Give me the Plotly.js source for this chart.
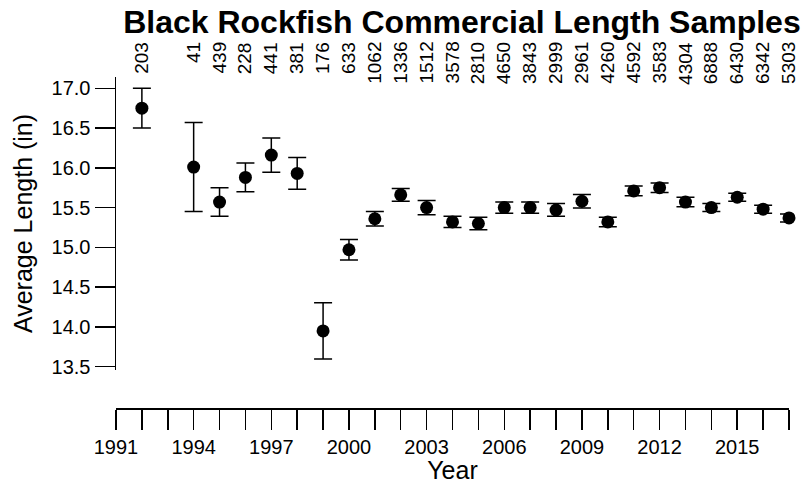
<!DOCTYPE html>
<html>
<head>
<meta charset="utf-8">
<script src="https://cdn.plot.ly/plotly-3.0.1.min.js"></script>
<style>html,body{margin:0;padding:0;background:#fff;}#chart{width:809px;height:484px;}</style>
</head>
<body>
<div id="chart"></div>
<script>
const years = [1992, 1994, 1995, 1996, 1997, 1998, 1999, 2000, 2001, 2002, 2003, 2004, 2005,
               2006, 2007, 2008, 2009, 2010, 2011, 2012, 2013, 2014, 2015, 2016, 2017];
const meanLength = [16.75, 16.01, 15.57, 15.88, 16.16, 15.93, 13.95, 14.97, 15.36, 15.66, 15.50, 15.32, 15.30,
                    15.50, 15.50, 15.47, 15.58, 15.32, 15.71, 15.75, 15.57, 15.50, 15.63, 15.48, 15.37];
const errLength = [0.25, 0.56, 0.18, 0.18, 0.215, 0.20, 0.355, 0.13, 0.09, 0.08, 0.09, 0.07, 0.08,
                   0.07, 0.07, 0.08, 0.085, 0.06, 0.06, 0.06, 0.06, 0.05, 0.05, 0.05, 0.05];
const sampleCounts = ["203", "41", "439", "228", "441", "381", "176", "633", "1062", "1336", "1512", "3578", "2810",
                      "4650", "3843", "2999", "2961", "4260", "4592", "3583", "4304", "6888", "6430", "6342", "5303"];

const FONT = "Liberation Sans, Arial, sans-serif";

const trace = {
  x: years,
  y: meanLength,
  type: "scatter",
  mode: "markers",
  cliponaxis: false,
  marker: {color: "black", size: 13, symbol: "circle"},
  error_y: {type: "data", array: errLength, visible: true, color: "black", thickness: 1.5, width: 9},
  hoverinfo: "x+y"
};

const annotations = years.map((yr, i) => ({
  x: yr, xref: "x",
  y: 1.112, yref: "paper",
  text: sampleCounts[i],
  textangle: -90,
  showarrow: false,
  xanchor: "center", yanchor: "top",
  font: {family: FONT, size: 19, color: "black"}
}));

const layout = {
  width: 809, height: 484,
  margin: {l: 116, r: 20, t: 77, b: 76},
  paper_bgcolor: "white", plot_bgcolor: "white",
  showlegend: false,
  font: {family: FONT, color: "black"},
  title: {
    text: "Black Rockfish Commercial Length Samples",
    font: {family: FONT, size: 32, color: "black", weight: "bold"},
    x: 0.571, xref: "container", xanchor: "center",
    y: 0.978, yref: "container", yanchor: "top"
  },
  xaxis: {
    range: [1991, 2017],
    anchor: "free", position: 0,
    tickmode: "linear", tick0: 1991, dtick: 3,
    ticks: "outside", ticklen: 20, tickwidth: 1.5, tickcolor: "black",
    minor: {tick0: 1991, dtick: 1, ticks: "outside", ticklen: 20, tickwidth: 1.5, tickcolor: "black", showgrid: false},
    showline: true, linecolor: "black", linewidth: 1.5,
    showgrid: false, zeroline: false,
    tickfont: {family: FONT, size: 20, color: "black"},
    title: {text: "Year", font: {family: FONT, size: 25, color: "black"}, standoff: 0}
  },
  yaxis: {
    domain: [0.115, 1],
    range: [13.459, 17.142],
    tickmode: "linear", tick0: 13.5, dtick: 0.5, tickformat: ".1f",
    ticks: "outside", ticklen: 20, tickwidth: 1.5, tickcolor: "black",
    showline: true, linecolor: "black", linewidth: 1.5,
    showgrid: false, zeroline: false,
    tickfont: {family: FONT, size: 20, color: "black"},
    title: {text: "Average Length (in)", font: {family: FONT, size: 25, color: "black"}, standoff: 12}
  },
  annotations: annotations
};

Plotly.newPlot("chart", [trace], layout, {displayModeBar: false, staticPlot: true});
</script>
</body>
</html>
